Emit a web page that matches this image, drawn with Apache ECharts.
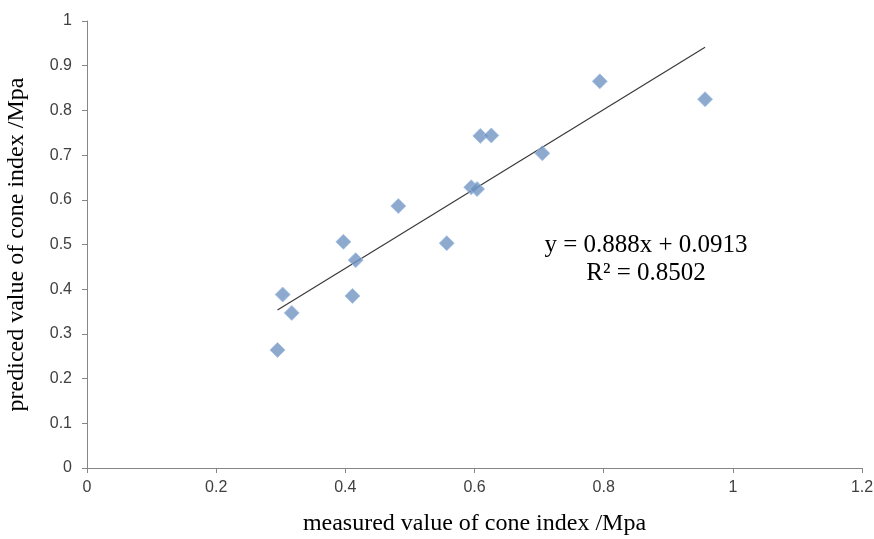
<!DOCTYPE html>
<html>
<head>
<meta charset="utf-8">
<title>cone index</title>
<script src="https://cdn.jsdelivr.net/npm/echarts@6/dist/echarts.min.js"></script>
<style>
  html, body { margin: 0; padding: 0; background: #fff; }
  #chart { width: 874px; height: 539px; }
</style>
</head>
<body>
<div id="chart"></div>
<script>
var measured = [0.295, 0.303, 0.317, 0.397, 0.411, 0.416, 0.482, 0.557, 0.595, 0.604, 0.609, 0.626, 0.705, 0.794, 0.957];
var predicted = [0.264, 0.388, 0.347, 0.506, 0.385, 0.465, 0.586, 0.503, 0.628, 0.624, 0.743, 0.744, 0.704, 0.865, 0.825];
// linear fit shown on the chart
var slope = 0.888;
var intercept = 0.0913;
var rSquared = '0.8502';

var points = measured.map(function (x, i) { return [x, predicted[i]]; });
var xMin = Math.min.apply(null, measured);
var xMax = Math.max.apply(null, measured);
var fitLine = [[xMin, slope * xMin + intercept], [xMax, slope * xMax + intercept]];

var chart = echarts.init(document.getElementById('chart'));
chart.setOption({
  animation: false,
  grid: { left: 87, right: 12, top: 21, bottom: 71, containLabel: false, outerBoundsMode: 'none' },
  xAxis: {
    type: 'value',
    min: 0, max: 1.2, interval: 0.2,
    name: 'measured value of cone index /Mpa',
    nameLocation: 'middle',
    nameGap: 44,
    nameTextStyle: { fontFamily: 'Liberation Serif', fontSize: 24, color: '#000' },
    axisLine: { lineStyle: { color: '#868686' } },
    axisTick: { show: true, length: 5, lineStyle: { color: '#868686' } },
    axisLabel: { fontFamily: 'Liberation Sans', fontSize: 16, color: '#404040', margin: 12,
      formatter: function (v) { return String(+v.toFixed(1)); } },
    splitLine: { show: false }
  },
  yAxis: {
    type: 'value',
    min: 0, max: 1, interval: 0.1,
    name: 'prediced value of cone index /Mpa',
    nameLocation: 'middle',
    nameGap: 58,
    nameTextStyle: { fontFamily: 'Liberation Serif', fontSize: 24, color: '#000' },
    axisLine: { show: true, lineStyle: { color: '#868686' } },
    axisTick: { show: true, length: 5, lineStyle: { color: '#868686' } },
    axisLabel: { fontFamily: 'Liberation Sans', fontSize: 16, color: '#404040', margin: 15,
      formatter: function (v) { return String(+v.toFixed(1)); } },
    splitLine: { show: false }
  },
  series: [
    {
      type: 'line',
      data: fitLine,
      symbol: 'none',
      lineStyle: { color: '#3a3a3a', width: 1.2 },
      z: 1
    },
    {
      type: 'scatter',
      data: points,
      symbol: 'diamond',
      symbolSize: 15,
      itemStyle: { color: '#7193c2', borderColor: '#a4c0e6', borderWidth: 1 },
      z: 2
    }
  ],
  graphic: [
    {
      type: 'text',
      x: 646, y: 245,
      style: {
        text: 'y = 0.888x + 0.0913',
        font: '25px "Liberation Serif"',
        fill: '#000',
        align: 'center',
        verticalAlign: 'middle'
      }
    },
    {
      type: 'text',
      x: 646, y: 273,
      style: {
        text: 'R² = ' + rSquared,
        font: '25px "Liberation Serif"',
        fill: '#000',
        align: 'center',
        verticalAlign: 'middle'
      }
    }
  ]
});
</script>
</body>
</html>
